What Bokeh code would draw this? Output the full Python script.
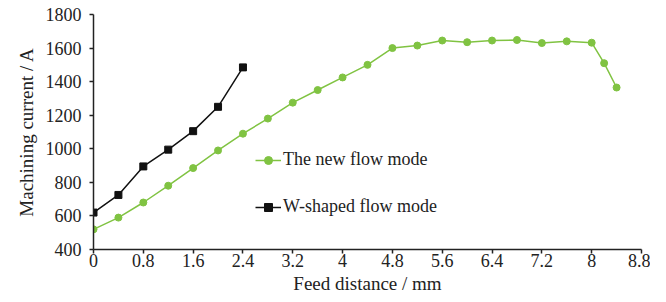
from bokeh.plotting import figure
from bokeh.models import Range1d, FixedTicker, CustomJSTickFormatter, Legend, LegendItem
from bokeh.embed import file_html
from bokeh.resources import INLINE

# Data
new_x = [0, 0.4, 0.8, 1.2, 1.6, 2.0, 2.4, 2.8, 3.2, 3.6, 4.0, 4.4, 4.8, 5.2, 5.6, 6.0, 6.4, 6.8, 7.2, 7.6, 8.0, 8.2, 8.4]
new_y = [520, 590, 680, 780, 885, 990, 1090, 1180, 1275, 1350, 1425, 1500, 1600, 1615, 1645, 1635, 1645, 1648, 1630, 1640, 1632, 1510, 1365]
w_x = [0, 0.4, 0.8, 1.2, 1.6, 2.0, 2.4]
w_y = [620, 725, 895, 995, 1105, 1250, 1485]
x_ticks = [0, 0.8, 1.6, 2.4, 3.2, 4.0, 4.8, 5.6, 6.4, 7.2, 8.0, 8.8]
y_ticks = [400, 600, 800, 1000, 1200, 1400, 1600, 1800]

FONT = "Liberation Serif"
TXT = "#222222"
GREEN = "#80c342"

p = figure(width=650, height=298, output_backend="svg", toolbar_location=None,
           x_range=Range1d(0, 8.8), y_range=Range1d(400, 1800),
           min_border_left=93, min_border_right=9, min_border_top=14, min_border_bottom=49)
p.outline_line_color = None
p.xgrid.visible = False
p.ygrid.visible = False
p.background_fill_color = "white"

gl = p.line(new_x, new_y, line_color=GREEN, line_width=1.5)
gs = p.scatter(new_x, new_y, marker="circle", size=7, fill_color=GREEN, line_color=GREEN)
bl = p.line(w_x, w_y, line_color="#111111", line_width=1.5)
bs = p.scatter(w_x, w_y, marker="square", size=7, fill_color="#111111", line_color="#111111")

for ax in (p.xaxis[0], p.yaxis[0]):
    ax.axis_line_color = "#222222"
    ax.axis_line_width = 1.5
    ax.major_tick_line_color = "#222222"
    ax.major_tick_line_width = 1.5
    ax.major_tick_out = 4
    ax.major_tick_in = 0
    ax.minor_tick_line_color = None
    ax.major_label_text_font = FONT
    ax.major_label_text_font_size = "18px"
    ax.major_label_text_color = TXT
    ax.axis_label_text_font = FONT
    ax.axis_label_text_font_size = "19px"
    ax.axis_label_text_font_style = "normal"
    ax.axis_label_text_color = TXT

p.xaxis.ticker = FixedTicker(ticks=x_ticks)
p.yaxis.ticker = FixedTicker(ticks=y_ticks)
p.xaxis.formatter = CustomJSTickFormatter(code="return String(Number(tick.toFixed(1)));")
p.xaxis.axis_label = "Feed distance / mm"
p.yaxis.axis_label = "Machining current / A"
p.xaxis.major_label_standoff = 0
p.yaxis.major_label_standoff = 8
p.xaxis.axis_label_standoff = 3
p.yaxis.axis_label_standoff = 6

legend = Legend(items=[
    LegendItem(label="The new flow mode", renderers=[gl, gs]),
    LegendItem(label="W-shaped flow mode", renderers=[bl, bs]),
], location=(162, 32))
legend.border_line_color = None
legend.background_fill_alpha = 0
legend.label_text_font = FONT
legend.label_text_font_size = "18px"
legend.label_text_color = TXT
legend.glyph_width = 26
legend.glyph_height = 20
legend.label_height = 20
legend.spacing = 26
legend.label_standoff = 2
legend.padding = 4
p.add_layout(legend, "center")

open("out.html", "w").write(file_html(p, INLINE))
